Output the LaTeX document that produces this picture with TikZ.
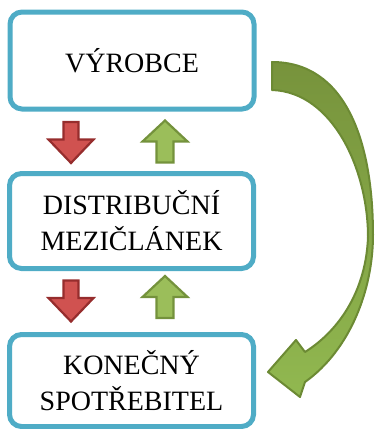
\documentclass[tikz,border=0pt]{standalone}
\usepackage{fontspec}
\setmainfont{Liberation Serif}
\definecolor{boxblue}{RGB}{79,172,198}
\definecolor{redfill}{RGB}{208,82,80}
\definecolor{redline}{RGB}{150,45,45}
\definecolor{greenfill}{RGB}{155,190,90}
\definecolor{greenline}{RGB}{116,146,60}
\definecolor{curveline}{RGB}{108,138,52}
\definecolor{curvetop}{RGB}{119,147,60}
\definecolor{curvebottom}{RGB}{145,184,80}
\begin{document}
\begin{tikzpicture}[x=1pt,y=-1pt,
  stage/.style={draw=boxblue, line width=5pt, rounded corners=12pt, fill=white,
    minimum width=244pt, align=center, font=\fontsize{28}{36}\selectfont, inner sep=0pt},
  redarrow/.style={fill=redfill, draw=redline, line width=2.2pt},
  greenarrow/.style={fill=greenfill, draw=greenline, line width=2.2pt},
  bigarrow/.style={draw=curveline, line width=2pt, line join=round,
    top color=curvetop, bottom color=curvebottom},
  downarr/.pic={\path[redarrow] (-7.5,-20.5) -- (7.5,-20.5) -- (7.5,-3) -- (22.5,-3)
      -- (0,20.5) -- (-22.5,-3) -- (-7.5,-3) -- cycle;},
  uparr/.pic={\path[greenarrow] (-8.5,21) -- (8.5,21) -- (8.5,0) -- (22.5,0)
      -- (0,-21) -- (-22.5,0) -- (-8.5,0) -- cycle;}
]
\useasboundingbox (0,0) rectangle (375,429);

\node[stage, minimum height=97pt] (prod) at (132,60.5) {VÝROBCE};
\node[stage, minimum height=95pt] (dist) at (131.5,221) {DISTRIBUČNÍ\\MEZIČLÁNEK};
\node[stage, minimum height=92pt] (cons) at (131.5,380.5) {KONEČNÝ\\SPOTŘEBITEL};

\pic at (71,142.5) {downarr};
\pic at (165,141.5) {uparr};
\pic at (71,301) {downarr};
\pic at (165,297) {uparr};

\path[bigarrow]
 (272,62) .. controls (345,62) and (373,140) .. (373,235)
 .. controls (373,290) and (350,350) .. (305,382)
 -- (300,397) -- (268,372) -- (296,340) -- (305,352)
 .. controls (340,330) and (366,290) .. (368,237)
 .. controls (368,170) and (333,92) .. (272,90) -- cycle;
\end{tikzpicture}
\end{document}
